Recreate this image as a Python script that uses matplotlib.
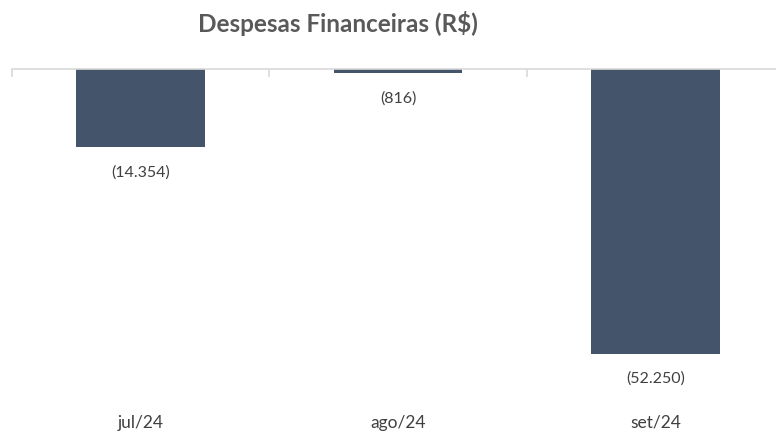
import matplotlib.pyplot as plt
from matplotlib.transforms import blended_transform_factory

# data
months = ["jul/24", "ago/24", "set/24"]
values = [-14354, -816, -52250]
labels = ["(14.354)", "(816)", "(52.250)"]

plt.rcParams['font.family'] = ['Lato', 'DejaVu Sans']

W, H = 776, 437
fig = plt.figure(figsize=(W / 100, H / 100), dpi=100)

# axes spans the zero line; categories run from x=12 to x=784 px
ax = fig.add_axes([12 / W, 1 - 396 / H, 772 / W, 327 / H])
x = list(range(len(months)))
ax.bar(x, values, width=0.5, color="#44546A", zorder=2)
ax.set_xlim(-0.5, 2.5)
ax.set_ylim(-60000, 0)

for s in ["left", "right", "bottom"]:
    ax.spines[s].set_visible(False)
ax.spines["top"].set_color("#D9D9D9")
ax.spines["top"].set_linewidth(1.2)
ax.set_yticks([])
ax.xaxis.tick_top()
ax.set_xticks([-0.5, 0.5, 1.5, 2.5])
ax.tick_params(axis="x", direction="in", length=6, color="#D9D9D9", width=1.2, labeltop=False)

for xi, v, lab in zip(x, values, labels):
    ax.annotate(lab, (xi, v), xytext=(0, -18), textcoords="offset points",
                ha="center", va="center", fontsize=11.5, color="#404040")

trans = blended_transform_factory(ax.transData, fig.transFigure)
for xi, m in zip(x, months):
    ax.text(xi, 1 - 423 / H, m, transform=trans, ha="center", va="center",
            fontsize=12.5, color="#404040")

fig.text(338 / W, 1 - 24 / H, "Despesas Financeiras (R$)", ha="center", va="center",
         fontsize=17.5, fontweight="bold", color="#595959")

fig.savefig("out.png", dpi=100)
